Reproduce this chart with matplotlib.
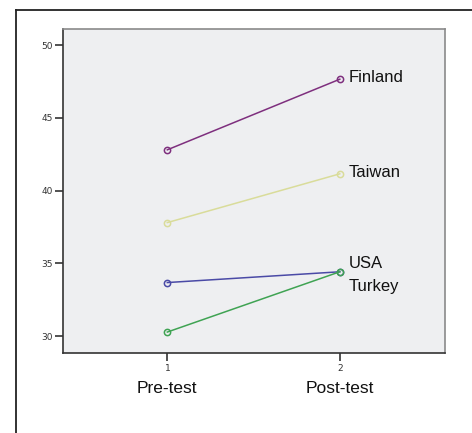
import matplotlib
matplotlib.use('Agg')
import matplotlib.pyplot as plt
from matplotlib.lines import Line2D

# data
times = [1, 2]
time_labels = ['Pre-test', 'Post-test']
countries = ['Finland', 'Taiwan', 'USA', 'Turkey']
finland = [42.8, 47.65]
taiwan = [37.8, 41.15]
usa = [33.68, 34.42]
turkey = [30.28, 34.42]
series = [finland, taiwan, usa, turkey]
colors = ['#7E2F7E', '#D9DC9A', '#4A4AA6', '#3FA353']

W, H = 472, 433
fig = plt.figure(figsize=(W / 100, H / 100), dpi=100)
fig.patch.set_facecolor('white')

# outer frame (only top and left visible in the reference)
fig.add_artist(Line2D([16 / W, 16 / W], [0, 1 - 10 / H], color='#222222', lw=1.3))
fig.add_artist(Line2D([16 / W, 1], [1 - 10 / H, 1 - 10 / H], color='#222222', lw=1.3))

left, right, top, bottom = 63, 445, 29, 353
ax = fig.add_axes([left / W, 1 - bottom / H, (right - left) / W, (bottom - top) / H])
ax.set_facecolor('#EEEFF1')

for name, vals, c in zip(countries, series, colors):
    ax.plot(times, vals, color=c, lw=1.1, marker='o', ms=4.5,
            mfc='none', mec=c, mew=1.1)

ax.set_xlim(0.395, 2.61)
ax.set_ylim(28.84, 51.1)
ax.set_yticks([30, 35, 40, 45, 50])
ax.set_xticks(times)
ax.tick_params(axis='y', labelsize=6.5, length=6, width=1.1, color='#222222',
               labelcolor='#333333', pad=1)
ax.tick_params(axis='x', labelsize=6.5, length=6, width=1.1, color='#222222',
               labelcolor='#333333', pad=2)

for x, lab in zip(times, time_labels):
    ax.text(x, 28.84 - 2.45, lab, ha='center', va='center', fontsize=12.5,
            family='Liberation Sans', color='#111111', clip_on=False)

# country labels to the right of the post-test points
lab_y = {'Finland': finland[1] + 0.15, 'Taiwan': taiwan[1] + 0.1,
         'USA': usa[1] + 0.6, 'Turkey': usa[1] - 1.0}
for name in countries:
    ax.text(2.05, lab_y[name], name, ha='left', va='center', fontsize=12,
            family='Liberation Sans', color='#111111')

for s in ['top', 'right']:
    ax.spines[s].set_color('#8A8A8A')
    ax.spines[s].set_linewidth(1.2)
for s in ['left', 'bottom']:
    ax.spines[s].set_color('#333333')
    ax.spines[s].set_linewidth(1.2)

fig.savefig('out.png', dpi=100)
